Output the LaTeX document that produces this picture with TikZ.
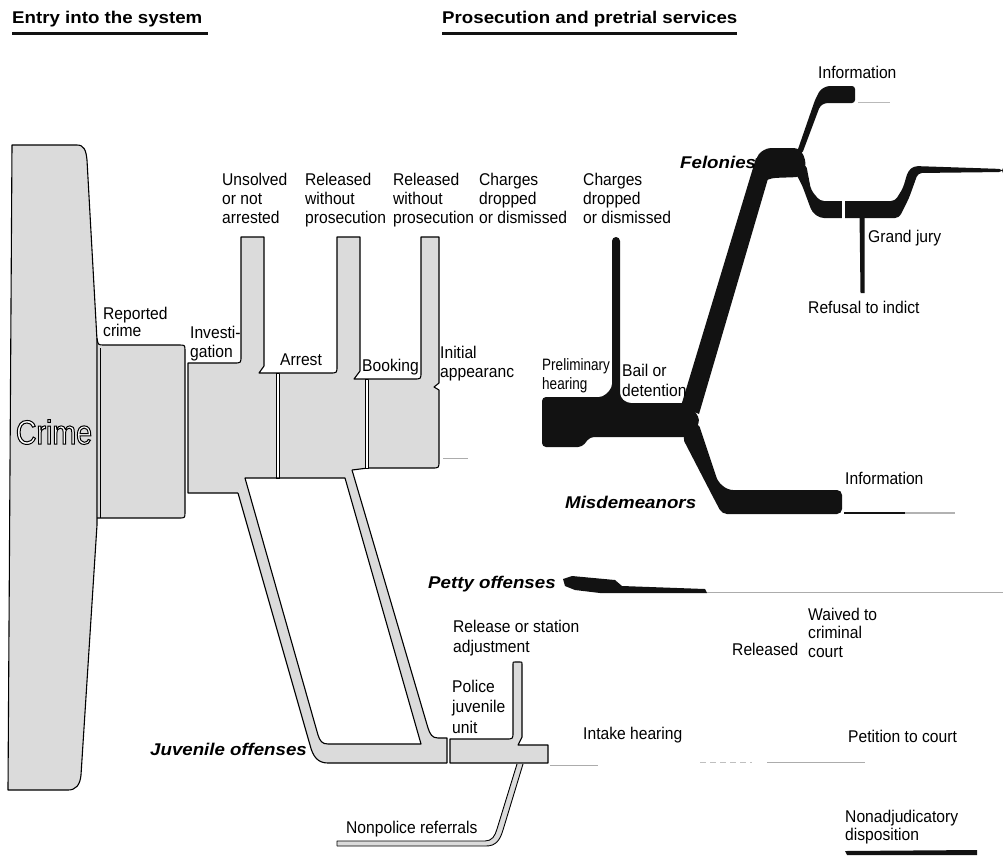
\documentclass[tikz,border=0pt]{standalone}
\usepackage{fontspec}
\setmainfont{Liberation Sans}[FakeStretch=0.92]
\newfontfamily\bif{Liberation Sans}[FakeStretch=1.1]
\newfontfamily\crimefont{Liberation Sans}[FakeStretch=0.84]
\newfontfamily\narrowfont{Liberation Sans}[FakeStretch=0.82]
\newcommand\T{\rule{0pt}{13pt}}
\definecolor{stip}{gray}{0.86}
\definecolor{ink}{gray}{0.07}
\begin{document}
\begin{tikzpicture}[x=1pt,y=-1pt,
  lbl/.style={inner sep=0pt, anchor=base west, font=\fontsize{17}{19}\selectfont},
  mlbl/.style={inner sep=0pt, anchor=north west, align=left, font=\fontsize{17}{19}\selectfont},
  bilbl/.style={inner sep=0pt, anchor=base west, font=\bif\bfseries\itshape\fontsize{17}{19}\selectfont},
  hdr/.style={inner sep=0pt, anchor=base west, font=\bif\bfseries\fontsize{17}{19}\selectfont},
  outl/.style={line width=1.1pt, line join=round, draw=black},
  gfill/.style={fill=stip},
  bfill/.style={fill=ink},
  thin line/.style={line width=1pt, draw=gray!65},
]
\fill[white] (0,0) rectangle (1003,855);
\useasboundingbox (0,0) rectangle (1003,855);

% ---------- headers ----------
\node[hdr] (hdr1) at (12,23) {Entry into the system};
\fill[ink] (12,32) rectangle (208,35);
\node[hdr] (hdr2) at (442,23) {Prosecution and pretrial services};
\fill[ink] (442,32) rectangle (737,35);

% ---------- Crime ----------
\path[gfill, outl] (12,145) -- (77,145) .. controls (84,145) and (86,150) .. (87,160)
  -- (97,340) -- (97,525) -- (81,775) .. controls (80,785) and (76,790) .. (68,790)
  -- (8,790) -- cycle;

% Reported crime box
\fill[stip] (98,345) -- (179,345) .. controls (185,345) .. (185,351) -- (185,512)
  .. controls (185,518) .. (179,518) -- (98,518) -- cycle;
\draw[outl] (97,338) .. controls (98,345) .. (104,345) -- (179,345) .. controls (185,345) .. (185,351)
  -- (185,512) .. controls (185,518) .. (179,518) -- (97,518);
\draw[outl, line width=0.8pt] (100,348) -- (100,518);

% ---------- Investigation / Arrest / Booking / Initial appearance ----------
\fill[stip] (188,363) -- (234,363) .. controls (241,363) .. (241,356) -- (241,237) -- (264,237)
  -- (264,366) -- (259,373) -- (330,373) .. controls (337,373) .. (337,366) -- (337,237)
  -- (360,237) -- (360,371) -- (354,379) -- (414,379) .. controls (421,379) .. (421,372)
  -- (421,237) -- (439,237) -- (439,383) -- (434,387) -- (439,390) -- (439,461)
  .. controls (439,468) .. (432,468) -- (368,468) -- (352,470) -- (345,478) -- (245,478)
  -- (238,493) -- (188,493) -- cycle;
\draw[outl] (238,493) -- (188,493) -- (188,363) -- (234,363) .. controls (241,363) .. (241,356)
  -- (241,237) -- (264,237) -- (264,366) -- (259,373) -- (330,373) .. controls (337,373) .. (337,366)
  -- (337,237) -- (360,237) -- (360,371) -- (354,379) -- (414,379) .. controls (421,379) .. (421,372)
  -- (421,237) -- (439,237) -- (439,383) -- (434,387) -- (439,390) -- (439,461)
  .. controls (439,468) .. (432,468) -- (368,468) -- (352,470);
\draw[outl, line width=0.8pt, fill=white] (276,373) rectangle (279.5,478);
\draw[outl, line width=0.8pt, fill=white] (365.5,379) rectangle (368.5,468);
\draw[thin line] (443,458) -- (468,458);

% ---------- juvenile strips ----------
\fill[stip] (238,493) -- (310,745) .. controls (313,757) and (318,763) .. (328,763) -- (447,763)
  -- (447,738) -- (438,738) .. controls (432,738) and (430,734) .. (428,728) -- (352,470)
  -- (345,478) -- (421,744) -- (328,744) .. controls (322,744) and (320,741) .. (318,735)
  -- (245,478) -- cycle;
\draw[outl] (238,493) -- (310,745) .. controls (313,757) and (318,763) .. (328,763) -- (447,763);
\draw[outl] (352,470) -- (428,728) .. controls (430,734) and (432,738) .. (438,738) -- (447,738) -- (447,763);
\draw[outl] (245,478) -- (345,478) -- (421,744) -- (328,744) .. controls (322,744) and (320,741) .. (318,735) -- cycle;

% Police juvenile unit box
\path[gfill, outl] (450,763) -- (450,739) -- (506,739) .. controls (513,739) .. (513,732)
  -- (513,664) .. controls (513,662) .. (515,662) -- (520,662) .. controls (522,662) .. (522,664)
  -- (522,737) -- (518,745) -- (548,745) -- (548,763) -- cycle;
\draw[thin line] (550,765) -- (598,765);

% Nonpolice referrals strip
\fill[stip] (517,764) -- (523,764) -- (503,830) .. controls (500,840) and (496,846) .. (486,846)
  -- (337,846) -- (337,841) -- (485,841) .. controls (492,841) and (495,836) .. (497,829) -- cycle;
\draw[outl, line width=0.9pt] (523,764) -- (503,830) .. controls (500,840) and (496,846) .. (486,846) -- (337,846);
\draw[outl, line width=0.9pt] (517,764) -- (497,829) .. controls (495,836) and (492,841) .. (485,841) -- (337,841) -- (337,846);

% ---------- prosecution (black) ----------
\fill[ink, rounded corners=4pt] (542,397) -- (603,397) -- (612,388) -- (612,237) -- (620,237)
  -- (620,397) -- (627,403) -- (690,403) -- (700,420) -- (692,437) -- (590,437) -- (582,447)
  -- (542,447) -- cycle;
% felony diagonal
\fill[ink] (681,406) -- (756,158) -- (772,165) -- (699,414) -- cycle;
% felony blob
\fill[ink, rounded corners=4pt] (754,168) -- (758,154) -- (767,148) -- (798,148) -- (804,155)
  -- (806,166) -- (800,177) -- (772,178) -- (762,182) -- cycle;
% information branch
\fill[ink, rounded corners=3pt] (797,152) -- (815,100) -- (820,90) -- (827,86) -- (855,86)
  -- (855,103) -- (825,103) -- (820,106) -- (802,154) -- cycle;
\draw[gray!55, line width=0.8pt] (858,102) -- (890,102);
% grand jury branch
\fill[ink, rounded corners=4pt] (795,172) -- (806,164) -- (811,190) -- (820,201) -- (895,201)
  -- (903,188) -- (908,171) -- (914,166) -- (1003,169) -- (1003,172) -- (918,173) -- (909,198)
  -- (899,218) -- (820,218) -- (812,212) -- (802,185) -- cycle;
\fill[white] (842,199) rectangle (845,220);
\fill[ink] (859.5,214) -- (864.5,214) -- (864.5,293) -- (860.5,293) -- cycle;
% misdemeanor strip
\fill[ink, rounded corners=5pt] (682,437) -- (698,422) -- (718,482) -- (728,490) -- (842,490)
  -- (842,514) -- (722,514) -- (712,495) -- cycle;
\draw[ink, line width=1.8pt] (844,513) -- (905,513);
\draw[gray!60, line width=1.5pt] (905,513) -- (955,513);
% petty offenses wedge
\fill[ink] (563,579) -- (572,576) -- (615,580) -- (622,586) -- (705,589) -- (707,593)
  -- (600,593) -- (575,590) -- (565,586) -- cycle;
\draw[thin line] (707,592) -- (1003,592);
% juvenile right side lines
\draw[gray!50, line width=0.8pt, dash pattern=on 6pt off 4pt] (700,762) -- (752,762);
\draw[thin line] (767,762) -- (865,762);
% nonadjudicatory bar
\fill[ink] (845,851) -- (977,850) -- (977,855) -- (847,855) -- cycle;

% ---------- labels ----------
\node[mlbl] (unsolved) at (222,172) {\T Unsolved\\or not\\arrested};
\node[mlbl] (rel1) at (305,172) {\T Released\\without\\prosecution};
\node[mlbl] (rel2) at (393,172) {\T Released\\without\\prosecution};
\node[mlbl] (ch1) at (479,172) {\T Charges\\dropped\\or dismissed};
\node[mlbl] (ch2) at (583,172) {\T Charges\\dropped\\or dismissed};
\node[mlbl, font=\fontsize{17}{15.5}\selectfont] (reported) at (103,306) {\T Reported\\crime};
\node[mlbl] (invest) at (190,325) {\T Investi-\\gation};
\node[lbl] (arrest) at (280,365) {Arrest};
\node[lbl] (booking) at (362,371) {Booking};
\node[mlbl] (initial) at (440,345) {\T Initial\\appearanc};
\node[mlbl, font=\narrowfont\fontsize{16.5}{19}\selectfont] (prelim) at (542,357) {\T Preliminary\\hearing};
\node[mlbl, font=\fontsize{17}{20}\selectfont] (bail) at (622,363) {\T Bail or\\detention};
\node[bilbl] (felonies) at (680,168) {Felonies};
\node[lbl] (info1) at (818,78) {Information};
\node[lbl] (grandjury) at (868,242) {Grand jury};
\node[lbl] (refusal) at (808,313) {Refusal to indict};
\node[bilbl] (misd) at (565,508) {Misdemeanors};
\node[lbl] (info2) at (845,484) {Information};
\node[bilbl] (petty) at (428,588) {Petty offenses};
\node[mlbl, font=\fontsize{17}{20}\selectfont] (station) at (453,619) {\T Release or station\\adjustment};
\node[mlbl, font=\fontsize{17}{20.5}\selectfont] (police) at (452,679) {\T Police\\juvenile\\unit};
\node[bilbl] (juvenile) at (150,755) {Juvenile offenses};
\node[lbl] (intake) at (583,739) {Intake hearing};
\node[lbl] (nonpolice) at (346,833) {Nonpolice referrals};
\node[lbl] (released) at (732,655) {Released};
\node[mlbl, font=\fontsize{17}{18.5}\selectfont] (waived) at (808,607) {\T Waived to\\criminal\\court};
\node[lbl] (petition) at (848,742) {Petition to court};
\node[mlbl, font=\fontsize{17}{18}\selectfont] (nonadj) at (845,809) {\T Nonadjudicatory\\disposition};

% Crime (outlined letters)
\node (crime) at (54,432) {\crimefont\fontsize{34}{34}\selectfont\color{white}\special{pdf:literal direct 2 Tr 1 w 0 G}Crime\special{pdf:literal direct 0 Tr}};
\end{tikzpicture}
\end{document}
